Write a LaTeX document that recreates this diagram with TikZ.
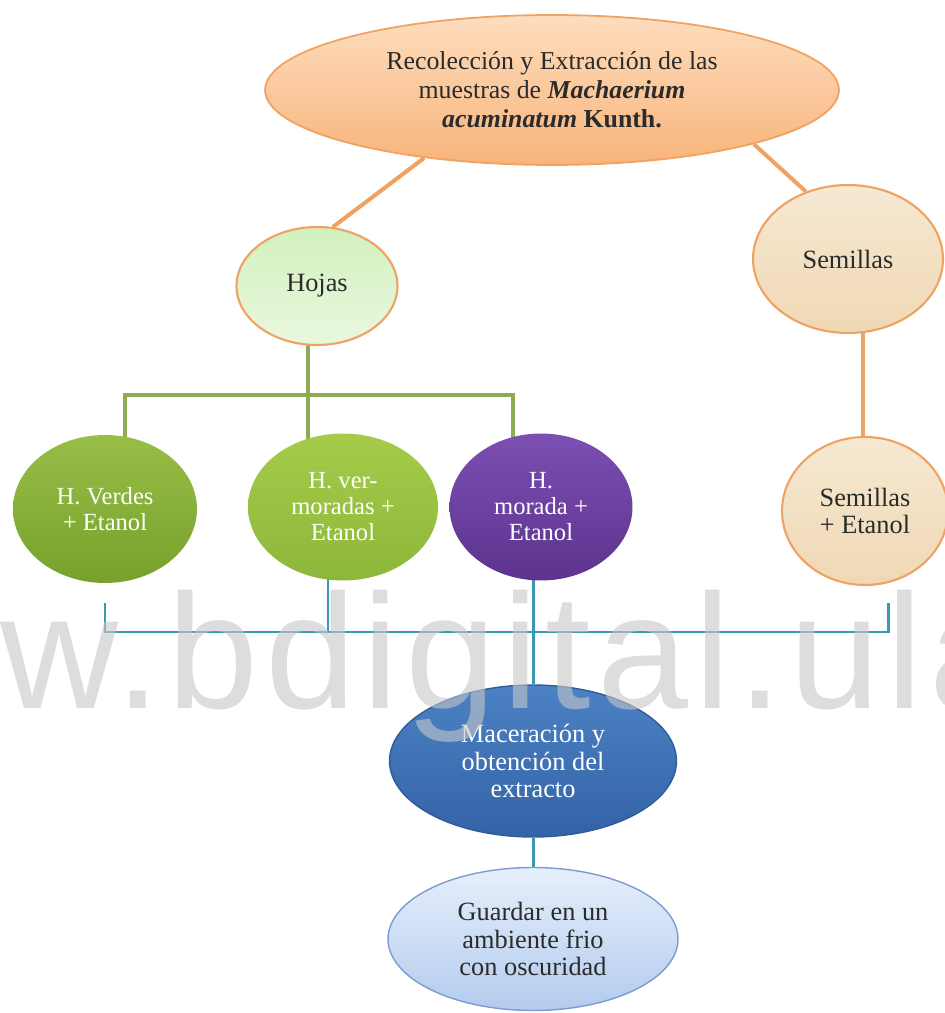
\documentclass[tikz,border=0pt]{standalone}
\usepackage{xcolor}
\usepackage{fontspec}
\setmainfont{Liberation Serif}
\newfontfamily\wmfont[LetterSpace=4]{Liberation Sans}
\usepackage{tikz}
\usetikzlibrary{shapes.geometric, positioning, backgrounds}

\definecolor{peachtop}{HTML}{FDDDBF}
\definecolor{peachbot}{HTML}{F8B47A}
\definecolor{orangeline}{HTML}{EFA262}
\definecolor{mintop}{HTML}{D2F0BE}
\definecolor{minbot}{HTML}{EAF8DE}
\definecolor{seedtop}{HTML}{F6E9D2}
\definecolor{seedbot}{HTML}{EFD8B4}
\definecolor{leaftop}{HTML}{97BE47}
\definecolor{leafbot}{HTML}{77A12C}
\definecolor{lighttop}{HTML}{A6CB4A}
\definecolor{lightbot}{HTML}{8DB73A}
\definecolor{purptop}{HTML}{7C4FB2}
\definecolor{purpbot}{HTML}{5C338E}
\definecolor{bluetop}{HTML}{4B82C4}
\definecolor{bluebot}{HTML}{3363A6}
\definecolor{blueline}{HTML}{2F5C96}
\definecolor{paletop}{HTML}{E6EFFB}
\definecolor{palebot}{HTML}{B3CBEE}
\definecolor{paleline}{HTML}{7D9BD2}
\definecolor{greenline}{HTML}{8FAB52}
\definecolor{tealline}{HTML}{3B98B4}
\definecolor{inkdark}{HTML}{2B2B2B}
\definecolor{wmgray}{gray}{0.78}

\begin{document}
\begin{tikzpicture}[
    x=0.02cm, y=-0.02cm,
    base node/.style={ellipse,inner sep=0pt,align=center,font=\fontsize{14}{14.8}\selectfont},
    dark node/.style={base node,text=inkdark,font=\fontsize{15}{15.9}\selectfont},
    root node/.style={dark node,top color=peachtop,bottom color=peachbot,draw=orangeline,line width=1pt,font=\fontsize{14.7}{16.5}\selectfont},
    part node/.style={dark node,top color=mintop,bottom color=minbot,draw=orangeline,line width=1.2pt},
    seed node/.style={dark node,top color=seedtop,bottom color=seedbot,draw=orangeline,line width=1.2pt},
    leaf node/.style={base node,top color=leaftop,bottom color=leafbot,text=white},
    light node/.style={base node,top color=lighttop,bottom color=lightbot,text=white},
    purple node/.style={base node,top color=purptop,bottom color=purpbot,text=white},
    macer node/.style={base node,top color=bluetop,bottom color=bluebot,draw=blueline,line width=0.8pt,text=white,font=\fontsize{15}{15.9}\selectfont},
    store node/.style={dark node,top color=paletop,bottom color=palebot,draw=paleline,line width=0.8pt},
    orange link/.style={draw=orangeline,line width=2.3pt},
    green link/.style={draw=greenline,line width=2.2pt},
    teal link/.style={draw=tealline,line width=1.7pt},
    watermark/.style={font=\wmfont\fontsize{93}{93}\selectfont,text=wmgray,text opacity=0.6,inner sep=0pt}
]
\useasboundingbox (0,0) rectangle (945,1013);

\node[root node,minimum width=11.48cm,minimum height=3cm] (top) at (552,90)
    {Recolección y Extracción de las\\muestras de \textbf{\textit{Machaerium}}\\\textbf{\textit{acuminatum}} \textbf{Kunth.}};
\node[part node,minimum width=3.22cm,minimum height=2.36cm] (hojas) at (317,286) {Hojas};
\node[seed node,minimum width=3.8cm,minimum height=2.96cm] (semillas) at (848,259) {Semillas};

\node[leaf node,minimum width=3.68cm,minimum height=2.96cm] (verdes) at (105,509) {H. Verdes\\+ Etanol};
\node[light node,minimum width=3.8cm,minimum height=2.94cm] (vermor) at (343,507) {H. ver-\\moradas +\\Etanol};
\node[purple node,minimum width=3.66cm,minimum height=2.94cm] (morada) at (541,507) {H.\\morada +\\Etanol};
\node[seed node,minimum width=3.32cm,minimum height=2.96cm] (semet) at (865,511) {Semillas\\+ Etanol};

\node[macer node,minimum width=5.74cm,minimum height=3.04cm] (macer) at (533,761) {Maceración y\\obtención del\\extracto};
\node[store node,minimum width=5.8cm,minimum height=2.86cm] (guardar) at (533,939) {Guardar en un\\ambiente frio\\con oscuridad};

% bracket ends
\coordinate (sline) at (863,0);
\coordinate (gleft) at (125,395);
\coordinate (gmid) at (308,395);
\coordinate (gright) at (513,395);
\coordinate (bltop) at (105,603);
\coordinate (bmid) at (328,632);
\coordinate (bright) at (888,632);
\coordinate (brtop) at (888,603);

\begin{scope}[on background layer]
\draw[orange link] (top.208) -- (hojas.75);
\draw[orange link] (top.-15) -- (semillas.122);
\draw[orange link] (sline |- semillas) -- (sline |- semet);

\draw[green link] (gmid |- hojas) -- (gmid |- vermor);
\draw[green link] (gleft |- verdes) |- (gmid) -| (gright |- morada);

\draw[teal link] (bltop) |- (bright) -- (brtop);
\draw[teal link] (bmid |- vermor) -- (bmid);
\draw[teal link] (macer |- morada) -- (macer);
\draw[teal link] (macer) -- (guardar);
\end{scope}

\node[watermark,anchor=base west] (wmark) at (0,708) {w.bdigital.ula};
\end{tikzpicture}
\end{document}
